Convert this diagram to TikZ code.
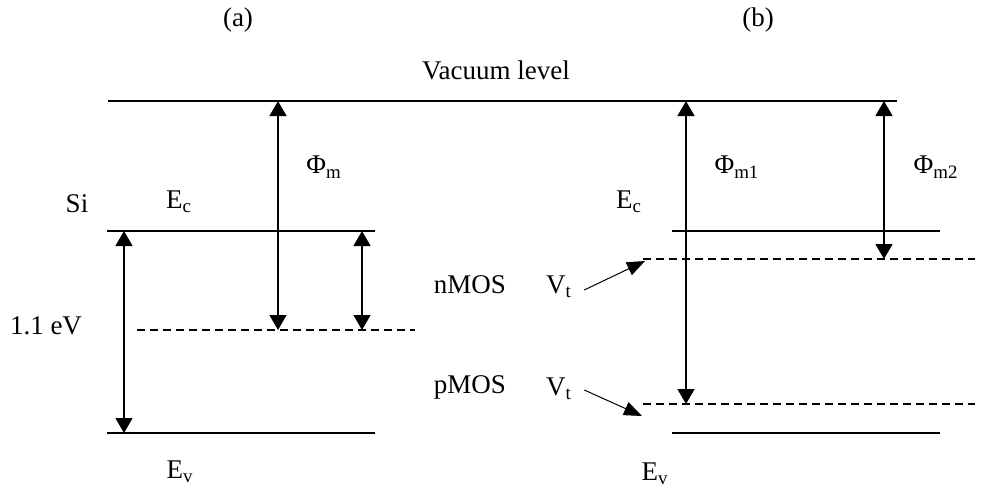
\documentclass[tikz,border=0pt]{standalone}
\usepackage{fontspec}
\setmainfont{Liberation Serif}
\usepackage{tikz}
\usetikzlibrary{arrows.meta,calc}

\begin{document}
\begin{tikzpicture}[x=0.5pt, y=-0.5pt,
    level/.style={line width=0.9pt},
    fermi/.style={line width=0.7pt, dash pattern=on 4pt off 2.5pt},
    gap/.style={{Triangle[width=8.5pt,length=7.5pt]}-{Triangle[width=8.5pt,length=7.5pt]}, line width=0.7pt},
    pointer/.style={-{Triangle[width=7pt,length=9pt]}, line width=0.5pt},
    lbl/.style={font=\fontsize{13.5}{15}\selectfont, inner sep=1pt}]
    \useasboundingbox (0,0) rectangle (987,489);

    % Level end points
    \coordinate (vacA) at (108,101);  \coordinate (vacB) at (897,101);
    \coordinate (ecA)  at (107,231);  \coordinate (ecB)  at (375,231);
    \coordinate (evA)  at (107,433);  \coordinate (evB)  at (375,433);
    \coordinate (efA)  at (137,330);  \coordinate (efB)  at (415,330);
    \coordinate (ecC)  at (672,231);  \coordinate (ecD)  at (940,231);
    \coordinate (evC)  at (672,433);  \coordinate (evD)  at (940,433);
    \coordinate (vnA)  at (643,259);  \coordinate (vnB)  at (975,259);
    \coordinate (vpA)  at (643,404);  \coordinate (vpB)  at (975,404);

    % Levels
    \draw[level] (vacA) -- (vacB);
    \draw[level] (ecA) -- (ecB);
    \draw[level] (evA) -- (evB);
    \draw[level] (ecC) -- (ecD);
    \draw[level] (evC) -- (evD);
    \draw[fermi] (efA) -- (efB);
    \draw[fermi] (vnA) -- (vnB);
    \draw[fermi] (vpA) -- (vpB);

    % Gap arrows
    \coordinate (egTop) at (124,231);  \coordinate (egBot) at (124,433);
    \coordinate (phmTop) at (278,101); \coordinate (phmBot) at (278,330);
    \coordinate (dTop) at (362,231);   \coordinate (dBot) at (362,330);
    \coordinate (ph1Top) at (686,101); \coordinate (ph1Bot) at (686,404);
    \coordinate (ph2Top) at (884,101); \coordinate (ph2Bot) at (884,259);
    \draw[gap] (egTop) -- (egBot);
    \draw[gap] (phmTop) -- (phmBot);
    \draw[gap] (dTop) -- (dBot);
    \draw[gap] (ph1Top) -- (ph1Bot);
    \draw[gap] (ph2Top) -- (ph2Bot);

    % Labels
    \node[lbl] (capa) at (238,20) {(a)};
    \node[lbl] (capb) at (758,20) {(b)};
    \node[lbl] (vac) at (496,70) {Vacuum level};
    \node[lbl] (si) at (77,204) {Si};
    \node[lbl] (ecl) at (179,202) {E\textsubscript{c}};
    \node[lbl] (phm) at (324,167) {Φ\textsubscript{m}};
    \node[lbl] (eg) at (46,326) {1.1 eV};
    \node[lbl] (evl) at (180,472) {E\textsubscript{v}};
    \node[lbl] (nmos) at (470,285) {nMOS};
    \node[lbl] (vtn) at (559,287) {V\textsubscript{t}};
    \node[lbl] (pmos) at (470,387) {pMOS};
    \node[lbl] (vtp) at (559,389) {V\textsubscript{t}};
    \node[lbl] (ecr) at (629,202) {E\textsubscript{c}};
    \node[lbl] (phm1) at (737,167) {Φ\textsubscript{m1}};
    \node[lbl] (phm2) at (936,167) {Φ\textsubscript{m2}};
    \node[lbl] (evr) at (655,474) {E\textsubscript{v}};

    % Threshold pointers
    \coordinate (tipn) at (645,261);
    \coordinate (tipp) at (642,416);
    \draw[pointer] ($(vtn.east)+(10,3)$) -- (tipn);
    \draw[pointer] ($(vtp.east)+(10,1)$) -- (tipp);
\end{tikzpicture}
\end{document}
